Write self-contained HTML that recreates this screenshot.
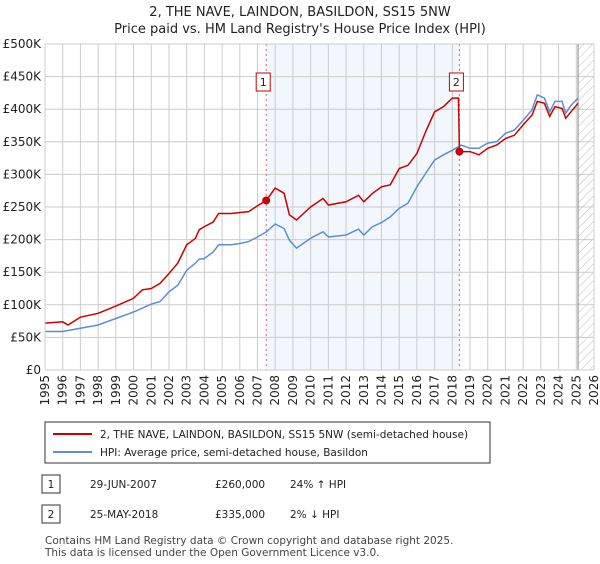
<!DOCTYPE html>
<html><head><meta charset="utf-8"><style>
body{margin:0;background:#fff;font-family:"DejaVu Sans","Liberation Sans",sans-serif;}
svg text{font-family:"DejaVu Sans","Liberation Sans",sans-serif;}
</style></head><body>
<svg id="chart" width="600" height="560" xmlns="http://www.w3.org/2000/svg">
<defs><pattern id="hatch" width="6" height="6" patternUnits="userSpaceOnUse" patternTransform="rotate(45)"><line x1="0" y1="0" x2="0" y2="6" stroke="#bbb" stroke-width="1"/></pattern></defs>
<text x="300" y="16" text-anchor="middle" font-size="13" fill="#222">2, THE NAVE, LAINDON, BASILDON, SS15 5NW</text>
<text x="300" y="33" text-anchor="middle" font-size="13" fill="#222">Price paid vs. HM Land Registry's House Price Index (HPI)</text>
<g id="plot"></g>
<g>
<rect x="45" y="422" width="445" height="41" fill="#fff" stroke="#333"/>
<line x1="53" y1="434" x2="92" y2="434" stroke="#cc0000" stroke-width="2"/>
<text x="100" y="438" font-size="10.5" fill="#222">2, THE NAVE, LAINDON, BASILDON, SS15 5NW (semi-detached house)</text>
<line x1="53" y1="452" x2="92" y2="452" stroke="#5b8fd0" stroke-width="2"/>
<text x="100" y="456" font-size="10.5" fill="#222">HPI: Average price, semi-detached house, Basildon</text>
</g>
<g font-size="10.5" fill="#222">
<rect x="42" y="475" width="18" height="18" fill="#fff" stroke="#333"/><text x="51" y="488" text-anchor="middle">1</text>
<text x="90" y="488">29-JUN-2007</text><text x="215" y="488">£260,000</text><text x="290" y="488">24% ↑ HPI</text>
<rect x="42" y="505" width="18" height="18" fill="#fff" stroke="#333"/><text x="51" y="518" text-anchor="middle">2</text>
<text x="90" y="518">25-MAY-2018</text><text x="215" y="518">£335,000</text><text x="290" y="518">2% ↓ HPI</text>
</g>
<text x="45" y="544" font-size="10.5" fill="#444">Contains HM Land Registry data © Crown copyright and database right 2025.</text>
<text x="45" y="556" font-size="10.5" fill="#444">This data is licensed under the Open Government Licence v3.0.</text>
</svg>
<script>
const hpiYears=[1995,1996,1997,1998,1999,2000,2001,2001.5,2002,2002.5,2003,2003.5,2003.7,2004,2004.5,2004.8,2005.5,2006,2006.5,2007,2007.5,2008,2008.5,2008.8,2009.2,2010,2010.7,2011,2012,2012.7,2013,2013.5,2014,2014.5,2015,2015.5,2016,2016.5,2017,2017.5,2018,2018.5,2019,2019.5,2020,2020.5,2021,2021.5,2022,2022.5,2022.8,2023.2,2023.5,2023.8,2024.2,2024.4,2024.7,2025.1];
const hpiValues=[59,59,64,69,79,89,101,105,120,130,153,164,170,171,181,192,192,194,197,204,212,224,217,199,187,202,212,204,207,216,207,220,226,235,248,256,281,302,322,330,337,345,340,340,348,350,363,368,383,399,422,417,396,412,412,394,406,417];
const propYears=[1995,1996,1996.3,1997,1998,1999,2000,2000.5,2001,2001.5,2002,2002.5,2003,2003.5,2003.7,2004,2004.5,2004.8,2005.5,2006.5,2007,2007.49,2008,2008.5,2008.8,2009.2,2010,2010.7,2011,2012,2012.7,2013,2013.5,2014,2014.5,2015,2015.5,2016,2016.5,2017,2017.5,2018,2018.35,2018.4,2019,2019.5,2020,2020.5,2021,2021.5,2022,2022.5,2022.8,2023.2,2023.5,2023.8,2024.2,2024.4,2024.7,2025.1];
const propValues=[72,74,69,81,87,98,110,123,125,133,148,164,192,202,215,220,227,240,240,243,252,260,279,271,238,230,250,263,253,258,268,258,271,281,284,309,314,332,366,396,404,417,417,335,335,330,340,345,355,360,376,391,412,409,389,404,401,386,396,409];
const saleYears=[2007.49,2018.4];
const saleValues=[260,335];
const saleLabels=["1","2"];
const yTicks=[0,50,100,150,200,250,300,350,400,450,500];
const yTickLabels=["£0","£50K","£100K","£150K","£200K","£250K","£300K","£350K","£400K","£450K","£500K"];
const xTicks=[1995,1996,1997,1998,1999,2000,2001,2002,2003,2004,2005,2006,2007,2008,2009,2010,2011,2012,2013,2014,2015,2016,2017,2018,2019,2020,2021,2022,2023,2024,2025,2026];

const L=45,R=594,T=44,B=370,X0=1995,X1=2026,YMAX=500;
const xs=v=>L+(v-X0)/(X1-X0)*(R-L);
const ys=v=>B-v/YMAX*(B-T);
const NS="http://www.w3.org/2000/svg";
const g=document.getElementById('plot');
function mk(tag,attrs){const e=document.createElementNS(NS,tag);for(const k in attrs)e.setAttribute(k,attrs[k]);g.appendChild(e);return e;}
let e;
e=mk('rect',{x:xs(saleYears[0]),y:T,width:xs(saleYears[1])-xs(saleYears[0]),height:B-T,fill:'#f2f6fd'});


e=mk('rect',{x:xs(2025.1),y:T,width:R-xs(2025.1),height:B-T,fill:'url(#hatch)'});


xTicks.forEach((t,i)=>{
  e=mk('line',{x1:xs(t),x2:xs(t),y1:T,y2:B,stroke:'#ccc','stroke-width':1});
  
  
  e=mk('text',{x:0,y:0,'font-size':12,fill:'#222','text-anchor':'end',transform:`translate(${xs(t)+4},${B+5}) rotate(-90)`});
  e.textContent=t;
  
  
});
yTicks.forEach((t,i)=>{
  e=mk('line',{x1:L,x2:R,y1:ys(t),y2:ys(t),stroke:'#ccc','stroke-width':1});
  
  
  e=mk('text',{x:41,y:ys(t)+4,'font-size':12,fill:'#222','text-anchor':'end'});
  e.textContent=yTickLabels[i];
  
  
});
e=mk('line',{x1:xs(2025.1),x2:xs(2025.1),y1:T,y2:B,stroke:'#888','stroke-width':1});


saleYears.forEach((s,i)=>{
  e=mk('line',{x1:xs(s),x2:xs(s),y1:T,y2:B,stroke:'#e06666','stroke-width':1,'stroke-dasharray':'2,3'});
  
  
});
const pts=(xa,va)=>xa.map((x,i)=>xs(x).toFixed(1)+','+ys(va[i]).toFixed(1)).join(' ');
e=mk('polyline',{points:pts(hpiYears,hpiValues),fill:'none',stroke:'#5b8fd0','stroke-width':1.5});


e=mk('polyline',{points:pts(propYears,propValues),fill:'none',stroke:'#cc0000','stroke-width':1.5});


saleYears.forEach((s,i)=>{
  e=mk('circle',{cx:xs(s),cy:ys(saleValues[i]),r:4,fill:'#cc0000'});
  
  
  e=mk('rect',{x:xs(s)-10,y:73,width:14,height:18,fill:'#fff',stroke:'#cc0000'});
  
  
  e=mk('text',{x:xs(s)-3,y:86,'font-size':11,fill:'#222','text-anchor':'middle'});
  e.textContent=saleLabels[i];
  
  
});
e=mk('rect',{x:L,y:T,width:R-L,height:B-T,fill:'none',stroke:'#ccc'});


</script>
</body></html>
